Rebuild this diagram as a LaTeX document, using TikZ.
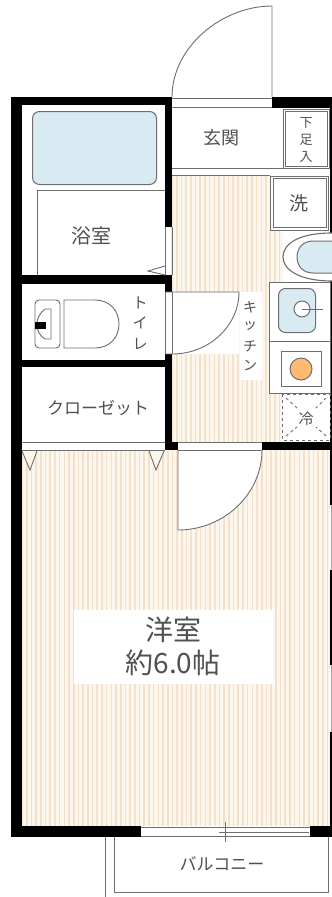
\documentclass[tikz,border=0pt]{standalone}
\usepackage{fontspec}
\setmainfont{Noto Sans CJK JP}
\usetikzlibrary{calc}
\definecolor{stripe}{HTML}{F2E2CD}
\definecolor{floorbg}{HTML}{FCF6EC}
\definecolor{tub}{HTML}{D9EBF2}
\definecolor{edge}{HTML}{6E6E6E}
\definecolor{ink}{HTML}{505050}
\newcommand{\hatch}[4]{\fill[floorbg] (#1,#2) rectangle (#3,#4);
\pgfmathsetmacro{\xb}{#1+4.7}
\foreach \xx in {#1,\xb,...,#3}{\draw[stripe, line width=1.6pt] (\xx,#2) -- (\xx,#4);}}
\begin{document}
\begin{tikzpicture}[x=1pt,y=-1pt,lbl/.style={text=ink, inner sep=0pt, font=\fontsize{18}{20}\selectfont}]
\tikzstyle{wall}=[fill=black]
\tikzstyle{fine}=[draw=edge, line width=0.9pt]
\tikzstyle{blue}=[draw=edge, line width=1pt, fill=tub, rounded corners=7pt]
\useasboundingbox (0,0) rectangle (332,897);
\fill[white] (0,0) rectangle (332,897);
% floors
\hatch{172}{175}{270}{442}
\hatch{270}{230}{283}{282}
\hatch{270}{393}{282}{442}
\hatch{22}{450}{330}{826}
\fill[white] (74,610) rectangle (273,684);
\fill[white] (240,292) rectangle (262,380);
% walls
\foreach \xa/\ya/\xb/\yb in {11/97/172/105, 11/97/22/837, 165/97/172/227, 22/275/172/284, 165/275/172/292, 165/354/172/450, 22/360/165/367, 165/442/178/450, 262/442/332/450, 272/97/332/108, 11/826/141/837, 310/826/332/837, 330/108/332/505, 330/732/332/837, 330/570/332/665}{\fill[wall] (\xa,\ya) rectangle (\xb,\yb);}
\foreach \ya/\yb in {505/570, 665/732}{\fill[edge!60] (330.5,\ya) rectangle (332,\yb);}
% entrance door
\draw[fine] (172,97) .. controls (172,47) and (222,6) .. (272,6) -- (272,97);
\draw[fine] (172,98) -- (272,98) (172,107) -- (272,107);
\draw[fine] (172,168) -- (283,168) (172,175) -- (270,175);
% shoe box and washer
\draw[fine] (283,109) rectangle (329,168);
\draw[fine] (285,111) rectangle (327,166);
\draw[fine] (270,176) rectangle (328,230);
\draw[fine] (273,178) rectangle (326,227);
% bath
\node[blue, minimum width=124pt, minimum height=73pt, anchor=north west] (tubbox) at (32,111) {};
\draw[fine] (37,275) -- (37,190) -- (165,190);
\draw[fine] (165,227) -- (165,275) (172,227) -- (172,275);
\draw[fine] (165,266) -- (148,271) -- (165,275);
% kitchen
\fill[white] (332,233) .. controls (300,233) and (283,243) .. (283,257) .. controls (283,270) and (300,281) .. (332,281);
\draw[edge, line width=1.1pt] (332,233) .. controls (300,233) and (283,243) .. (283,257) .. controls (283,270) and (300,281) .. (332,281);
\draw[blue, rounded corners=0pt] (332,241) -- (313,241) .. controls (303,241) and (297,248) .. (297,257) .. controls (297,266) and (303,273) .. (313,273) -- (332,273);
\draw[fine, fill=white] (269,282) rectangle (330,341);
\draw[fine, fill=white] (269,341) rectangle (330,393);
\node[blue, minimum width=37pt, minimum height=44pt, anchor=north west] (sink) at (278,288) {};
\node[circle, draw=edge, line width=1pt, fill=white, minimum size=16pt, inner sep=0pt] (drain) at (302,309) {};
\coordinate (drainend) at (323,309);
\draw[fine] (drain.center) -- (drainend);
\draw[fine] (281,351) rectangle (321,386);
\node[circle, draw=edge, line width=1pt, fill=orange!55!white, minimum size=22pt, inner sep=0pt] (burner) at (301,369) {};
% fridge
\draw[edge, line width=0.9pt, dashed] (282,394) rectangle (330,440);
\draw[edge, line width=0.9pt, dashed] (286,398) -- (297,408) (326,398) -- (316,408) (286,436) -- (297,427) (326,436) -- (316,427);
% toilet
\fill[white] (165,292) rectangle (239,354);
\draw[fine] (165,292) -- (239,292) .. controls (239,325) and (210,354) .. (172,354) -- (165,354);
\draw[fine] (165,292) -- (165,354) (172,292) -- (172,354);
\draw[fine, rounded corners=4pt] (35,300) rectangle (60,348);
\draw[fine] (51,309) -- (45,309) .. controls (40,313) and (37,318) .. (37,324) .. controls (37,331) and (40,336) .. (45,339) -- (51,339) -- cycle;
\fill[black] (35,322) rectangle (46,329);
\draw[fine] (64,300) -- (95,300) .. controls (110,300) and (119,311) .. (119,324) .. controls (119,337) and (110,348) .. (95,348) -- (64,348) -- cycle;
% closet
\draw[fine] (22,442) -- (165,442) (22,450) -- (165,450);
\foreach \xa/\xb/\xc in {22/30/37, 149/156/164}{\draw[fine, fill=floorbg] (\xa,451) -- (\xb,470) -- (\xc,451);}
% room door
\fill[white] (178,450) -- (262,450) .. controls (262,494) and (224,530) .. (178,530) -- cycle;
\draw[fine] (178,442) -- (262,442) (178,450) -- (262,450);
\draw[fine] (178,450) -- (178,530) .. controls (224,530) and (262,494) .. (262,450);
% balcony
\fill[white] (141,826) rectangle (310,837);
\draw[fine] (141,827) -- (310,827) (141,836) -- (310,836) (219,832) -- (309,832) (225,822) -- (225,842);
\draw[fine] (105,837) -- (105,897) (114,837) -- (114,892) -- (328,892) -- (328,837);
% labels
\node[lbl] (genkan) at (221,138) {玄関};
\node[lbl, font=\fontsize{13}{17}\selectfont, align=center] (shoes) at (306,140) {下\\足\\入};
\node[lbl, font=\fontsize{19}{20}\selectfont] (wash) at (299,203) {洗};
\node[lbl, font=\fontsize{20}{20}\selectfont] (bath) at (91,236) {浴室};
\node[lbl, font=\fontsize{15}{15}\selectfont] (rei) at (306,419) {冷};
\node[lbl, font=\fontsize{17}{17}\selectfont] (closet) at (98,408) {クローゼット};
\node[lbl, font=\fontsize{17}{17}\selectfont] (balcony) at (222,864) {バルコニー};
\foreach \nm/\t/\yy in {to/ト/303, i/イ/323, re/レ/344}{\node[lbl, font=\fontsize{15}{15}\selectfont] (toilet\nm) at (140,\yy) {\t};}
\foreach \nm/\t/\yy in {ki/キ/307, tt/ッ/326, ti/チ/346, nn/ン/365}{\node[lbl, font=\fontsize{14}{14}\selectfont] (kitchen\nm) at (250,\yy) {\t};}
\node[lbl, font=\fontsize{28}{33}\selectfont, align=center] (room) at (173,646) {洋室\\約6.0帖};
\end{tikzpicture}
\end{document}
